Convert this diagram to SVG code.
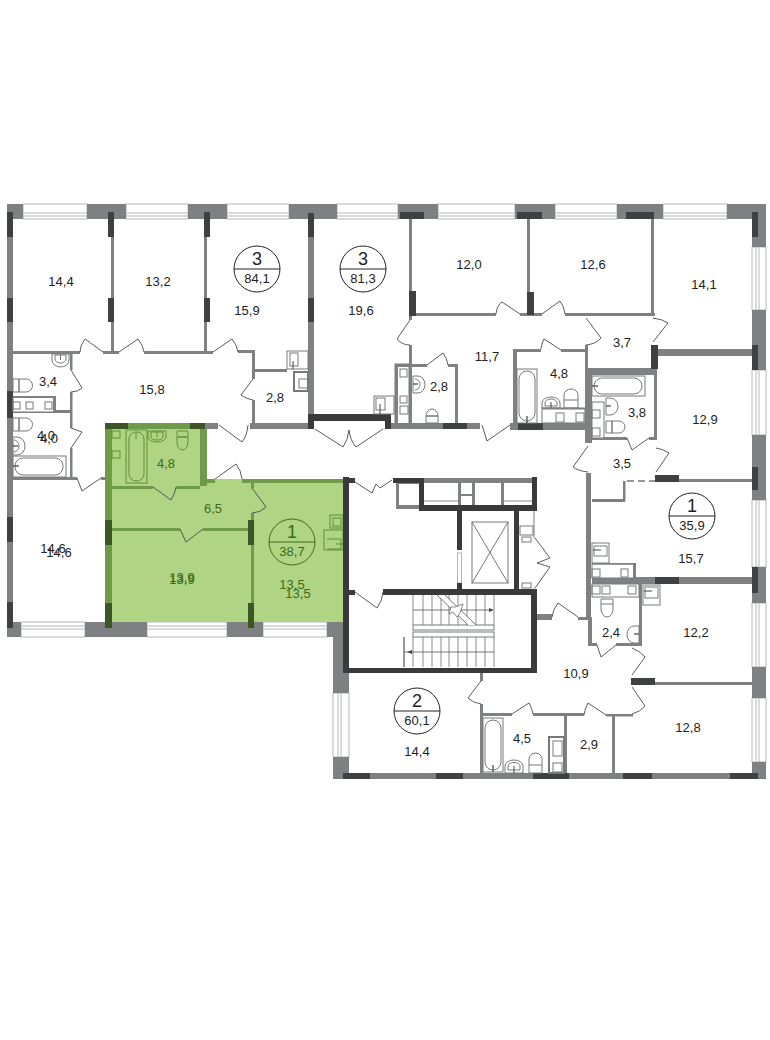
<svg xmlns="http://www.w3.org/2000/svg" width="770" height="1040" viewBox="0 0 770 1040">
<style>
.w{fill:#7f8082}.d{fill:#3f4042}.k{fill:#3a3a3c}
.win{fill:#fff;stroke:#b5b6b8;stroke-width:1}
.wl{stroke:#b5b6b8;stroke-width:1;fill:none}
.door{fill:none;stroke:#4a4a4c;stroke-width:.9}
.f{fill:#fff;stroke:#77787a;stroke-width:1}
.fi{fill:none;stroke:#77787a;stroke-width:1}
.gf{fill:none;stroke:#5f8f35;stroke-width:1}
.gw{fill:#6f9a4a}.gd{fill:#3d5626}
.st{fill:none;stroke:#8a8b8d;stroke-width:1}
.st2{fill:none;stroke:#555;stroke-width:.8}
text{font-family:"Liberation Sans",Arial,sans-serif;font-size:13px;fill:#222;text-anchor:middle}
.g{fill:#3d6b17}
.n{font-size:18px}
.ci{fill:#fff;stroke:#222;stroke-width:1}
.cg{fill:none;stroke:#3d6b17;stroke-width:1}
</style>
<g id="windows">
<rect class="win" x="23" y="204" width="64" height="15"/><rect class="win" x="126" y="204" width="62" height="15"/><rect class="win" x="227" y="204" width="62" height="15"/><rect class="win" x="337" y="204" width="61" height="15"/><rect class="win" x="438" y="204" width="77" height="15"/><rect class="win" x="555" y="204" width="62" height="15"/><rect class="win" x="663" y="204" width="64" height="15"/>
<path class="wl" d="M23 213H87M126 213H188M227 213H289M337 213H398M438 213H515M555 213H617M663 213H727M23 216H87M126 216H188M227 216H289M337 216H398M438 216H515M555 216H617M663 216H727"/>
<rect class="win" x="752" y="247" width="14" height="63"/><rect class="win" x="752" y="370" width="14" height="65"/><rect class="win" x="752" y="500" width="14" height="67"/><rect class="win" x="752" y="603" width="14" height="64"/><rect class="win" x="752" y="698" width="14" height="64"/>
<path class="wl" d="M756 247V310M756 370V435M756 500V567M756 603V667M756 698V762M759 247V310M759 370V435M759 500V567M759 603V667M759 698V762"/>
<rect class="win" x="21" y="622" width="64" height="15"/><rect class="win" x="147" y="622" width="80" height="15"/><rect class="win" x="263" y="622" width="64" height="15"/>
<path class="wl" d="M21 626H85M147 626H227M263 626H327M21 629H85M147 629H227M263 629H327"/>
<rect class="win" x="333" y="693" width="16" height="64"/><path class="wl" d="M338 693V757M341 693V757"/>
</g>
<g id="piers">
<rect class="w" x="7" y="204" width="16" height="15"/><rect class="w" x="87" y="204" width="39" height="15"/><rect class="w" x="188" y="204" width="39" height="15"/><rect class="w" x="289" y="204" width="48" height="15"/><rect class="w" x="398" y="204" width="40" height="15"/><rect class="w" x="515" y="204" width="40" height="15"/><rect class="w" x="617" y="204" width="46" height="15"/><rect class="w" x="727" y="204" width="39" height="15"/>
<rect class="w" x="752" y="204" width="14" height="43"/><rect class="w" x="752" y="310" width="14" height="60"/><rect class="w" x="752" y="435" width="14" height="65"/><rect class="w" x="752" y="567" width="14" height="36"/><rect class="w" x="752" y="667" width="14" height="31"/><rect class="w" x="752" y="762" width="14" height="17"/>
<rect class="w" x="7" y="204" width="6" height="433"/><rect class="w" x="7" y="622" width="14" height="15"/><rect class="w" x="85" y="622" width="62" height="15"/><rect class="w" x="227" y="622" width="36" height="15"/><rect class="w" x="327" y="622" width="20" height="15"/>
<rect class="w" x="333" y="637" width="16" height="56"/><rect class="w" x="333" y="757" width="16" height="22"/><rect class="w" x="333" y="773" width="425" height="6"/>
</g>
<g id="apt-green">
<path d="M105 423H207V479H347V622H105Z" fill="#aed484"/>
<path class="gw" d="M105 423h108v6H112v193h-7zM200 429h7v57h-7zM207 479h8v4h-8zM242 479h105v4H242zM112 486h41v3h-41zM176 486h24v3h-24zM251 483h3v5h-3zM251 513h3v109h-3zM112 528h68v3h-68zM203 528h45v3h-45z"/>
<path class="gd" d="M105 423h23v6h-23zM190 423h20v6h-20zM105 520h7v25h-7zM105 603h7v25h-7zM248 520h6v25h-6zM248 603h6v25h-6z"/>
<rect class="gf" x="126" y="430" width="21" height="53"/><rect class="gf" x="129" y="432" width="15" height="49" rx="7"/><path class="gf" d="M136 432v7"/>
<path class="gf" d="M148 431h18v6a9 5 0 0 1-18 0zM151 432h12v5a6 3 0 0 1-12 0z"/><path class="gf" d="M157 431v6"/>
<rect class="gf" x="177" y="431" width="11" height="6" rx="1"/><path class="gf" d="M177 442a5.500 8 0 0 0 11 0v-5h-11z"/>
<rect class="gf" x="112" y="431" width="8" height="7"/><rect class="gf" x="112" y="451" width="8" height="7"/>
<rect class="gf" x="330" y="515" width="13" height="13"/><rect class="gf" x="333" y="518" width="8" height="8"/><rect class="gf" x="324" y="530" width="19" height="20"/><path class="gf" d="M327 539h14v10h-14M336 544h7"/>
<path class="door" d="M215 479L236 464Q241 470 242 479M153 487L171 500Q175 494 176 487M252 488L266 507Q260 513 252 513M180 529L186 542L203 529"/>
</g>
<g id="walls">
<rect class="w" x="111" y="219" width="3" height="132"/><rect class="w" x="204" y="219" width="3" height="132"/><rect class="w" x="13" y="351" width="67" height="3"/><rect class="w" x="103" y="351" width="16" height="3"/><rect class="w" x="144" y="351" width="69" height="3"/><rect class="w" x="238" y="350" width="17" height="3"/>
<rect class="w" x="252" y="350" width="3" height="29"/><rect class="w" x="252" y="400" width="3" height="23"/><rect class="w" x="255" y="369" width="32" height="3"/><rect class="w" x="308" y="219" width="6" height="196"/>
<rect class="w" x="250" y="423" width="59" height="6"/><rect class="w" x="205" y="423" width="13" height="6"/>
<rect class="w" x="391" y="423" width="89" height="6"/><rect class="w" x="510" y="423" width="75" height="7"/>
<rect class="w" x="409" y="219" width="3" height="101"/><rect class="w" x="409" y="345" width="3" height="80"/><rect class="w" x="416" y="313" width="80" height="3"/><rect class="w" x="520" y="313" width="22" height="3"/><rect class="w" x="565" y="313" width="90" height="3"/><rect class="w" x="527" y="219" width="3" height="73"/><rect class="w" x="651" y="219" width="3" height="97"/>
<rect class="w" x="585" y="345" width="3" height="25"/><rect class="w" x="513" y="349" width="28" height="3"/><rect class="w" x="561" y="349" width="25" height="3"/><rect class="w" x="513" y="349" width="4" height="75"/>
<rect class="w" x="585" y="368" width="7" height="75"/><rect class="w" x="585" y="368" width="72" height="7"/><rect class="w" x="658" y="349" width="94" height="7"/><rect class="w" x="654" y="375" width="3" height="63"/><rect class="w" x="592" y="437" width="35" height="3"/><rect class="w" x="649" y="437" width="8" height="3"/>
<rect class="w" x="586" y="473" width="5" height="147"/><rect class="w" x="679" y="479" width="73" height="3"/><rect class="w" x="623" y="481" width="2.500" height="20"/><rect class="w" x="592" y="499" width="33" height="3"/><path d="M627 481h28" stroke="#777" stroke-width="1.500" stroke-dasharray="7 4" fill="none"/>
<rect class="w" x="592" y="577" width="160" height="7"/><rect class="w" x="578" y="617" width="14" height="3"/><rect class="w" x="537" y="614" width="15" height="6"/><rect class="w" x="639" y="584" width="3" height="62"/><rect class="w" x="588" y="620" width="4" height="26"/><rect class="w" x="588" y="643" width="9" height="3"/><rect class="w" x="616" y="643" width="26" height="3"/><rect class="w" x="655" y="682" width="97" height="3"/>
<rect class="w" x="606" y="714" width="27" height="2.500"/><rect class="w" x="483" y="713" width="29" height="3"/><rect class="w" x="533" y="713" width="51" height="3"/><rect class="w" x="480" y="673" width="3" height="8"/><rect class="w" x="480" y="704" width="3" height="69"/><rect class="w" x="564" y="714" width="3" height="59"/><rect class="w" x="612" y="715" width="3" height="58"/>
<rect class="w" x="70" y="354" width="2.500" height="16"/><rect class="w" x="70" y="392" width="2.500" height="36"/><rect class="w" x="70" y="448" width="2.500" height="30"/><rect class="w" x="13" y="410" width="58" height="3"/><rect class="w" x="13" y="477" width="64" height="3"/><rect class="w" x="101" y="477" width="4" height="3"/>
<rect class="w" x="395" y="364" width="32" height="3"/><rect class="w" x="448" y="364" width="10" height="3"/><rect class="w" x="455" y="364" width="3" height="60"/><rect class="w" x="395" y="364" width="3" height="60"/>
</g>
<g id="dark-walls">
<rect class="d" x="7" y="212" width="6" height="25"/><rect class="d" x="7" y="298" width="6" height="24"/><rect class="d" x="7" y="391" width="6" height="27"/><rect class="d" x="7" y="517" width="6" height="25"/><rect class="d" x="7" y="602" width="6" height="26"/>
<rect class="d" x="108" y="212" width="6" height="25"/><rect class="d" x="108" y="298" width="6" height="24"/><rect class="d" x="204" y="212" width="6" height="25"/><rect class="d" x="204" y="298" width="6" height="24"/><rect class="d" x="308" y="213" width="6" height="24"/><rect class="d" x="308" y="298" width="6" height="24"/>
<rect class="d" x="400" y="212" width="24" height="7"/><rect class="d" x="409" y="291" width="7" height="25"/><rect class="d" x="517" y="212" width="25" height="7"/><rect class="d" x="527" y="292" width="7" height="23"/><rect class="d" x="626" y="212" width="28" height="7"/><rect class="d" x="651" y="345" width="7" height="24"/><rect class="d" x="518" y="423" width="25" height="7"/><rect class="d" x="443" y="423" width="24" height="6"/>
<rect class="d" x="752" y="212" width="6" height="25"/><rect class="d" x="752" y="345" width="6" height="25"/><rect class="d" x="752" y="467" width="6" height="23"/><rect class="d" x="752" y="567" width="6" height="26"/><rect class="d" x="655" y="475" width="24" height="7"/><rect class="d" x="655" y="577" width="24" height="7"/><rect class="d" x="631" y="678" width="24" height="7"/>
<rect class="d" x="343" y="773" width="27" height="6"/><rect class="d" x="436" y="773" width="27" height="6"/><rect class="d" x="533" y="773" width="36" height="6"/><rect class="d" x="623" y="773" width="29" height="6"/><rect class="d" x="730" y="773" width="28" height="6"/>
<rect class="k" x="308" y="414" width="83" height="7"/><rect class="k" x="308" y="414" width="6" height="15"/><rect class="k" x="385" y="414" width="6" height="15"/>
</g>
<g id="core">
<rect class="w" x="396" y="483" width="23" height="26"/><rect class="f" x="399" y="484" width="20" height="21" style="stroke:none"/>
<rect class="w" x="424" y="478" width="108" height="28"/>
<rect x="424" y="483" width="34" height="22" fill="#fff"/><rect x="461" y="483" width="11" height="11" fill="#fff"/><rect x="461" y="496" width="11" height="9" fill="#fff"/><rect x="475" y="483" width="26" height="22" fill="#fff"/><rect x="504" y="483" width="28" height="22" fill="#fff"/>
<path class="st" d="M424 501H458M504 501H532"/>
<rect class="k" x="343" y="477" width="6" height="196"/><rect class="k" x="343" y="668" width="194" height="5"/><rect class="k" x="531" y="589" width="6" height="84"/><rect class="k" x="383" y="589" width="154" height="6"/><rect class="k" x="349" y="590" width="6" height="5"/><rect class="k" x="349" y="478" width="6" height="5"/>
<rect class="k" x="393" y="478" width="31" height="5"/><rect class="k" x="419" y="478" width="5" height="33"/><rect class="k" x="419" y="505" width="118" height="6"/><rect class="k" x="532" y="477" width="5" height="34"/>
<rect class="k" x="457" y="510" width="5" height="40"/><rect class="win" x="457.500" y="553" width="4" height="30"/><rect class="k" x="457" y="583" width="5" height="7"/><rect class="k" x="514" y="510" width="5" height="80"/>
<rect fill="none" stroke="#77787a" x="472" y="522" width="36" height="61"/><path class="st2" d="M472 522L508 583M508 522L472 583"/>
<rect class="fi" x="520" y="526" width="13" height="9"/><rect class="fi" x="522" y="537" width="9" height="5"/><rect class="fi" x="522" y="583" width="9" height="5"/><path class="fi" d="M534 511v27M534 588v2"/>
<g id="stairs">
<path class="st" d="M413 595V625M423 595V625M432 595V625M441 595V625M449 595V625M458 595V625M467 595V625M476 595V625M485 595V625M494 595V625M404 637V667M413 637V667M423 637V667M432 637V667M441 637V667M449 637V667M458 637V667M467 637V667M476 637V667M485 637V667M494 637V667"/>
<rect class="fi" x="413" y="625" width="81" height="5"/><rect class="fi" x="413" y="632" width="81" height="5"/>
<path class="st2" d="M413 610H491M404 652H494M404 637V667"/>
<path fill="#fff" stroke="none" d="M437 595H445L476 625H468Z"/>
<path class="st2" d="M437 595L468 625M445 595L476 625"/>
<path fill="#fff" stroke="#6a6b6d" stroke-width=".8" d="M449 614L451 607L455 607L463 604L460 613L457 617L453 612Z"/>
<path fill="#444" d="M489 608l5 2-5 2zM412 650l-5 2 5 2z"/>
</g>
</g>
<g id="fixtures">
<path class="f" d="M52 354h17v6a8.500 7 0 0 1-17 0z"/><path class="fi" d="M55 355h11v4a5.500 4 0 0 1-11 0zM60.500 355v5"/>
<path class="f" d="M13 379h6v13h-6zM19 379h7a6.500 6.500 0 0 1 0 13h-7z"/>
<rect class="f" x="13" y="397" width="41" height="15"/><rect class="fi" x="13" y="402" width="7" height="7"/><rect class="fi" x="26" y="402" width="7" height="7"/><rect class="fi" x="45" y="402" width="7" height="7"/><rect class="w" x="53" y="397" width="3" height="15"/><rect class="w" x="13" y="396" width="43" height="2"/>
<path class="f" d="M13 418h6v13h-6zM19 418h7a6.500 6.500 0 0 1 0 13h-7z"/>
<path class="f" d="M13 437h4a8 9 0 0 1 0 18h-4z"/><path class="fi" d="M14 440a5 6 0 0 1 0 12"/><path stroke="#444" stroke-width="1.200" d="M13 446h5"/>
<rect class="f" x="13" y="456" width="53" height="21"/><rect class="fi" x="15" y="458" width="48" height="17" rx="8"/><path stroke="#444" stroke-width="1.200" d="M13 466h6"/>
<rect class="f" x="287" y="351" width="21" height="18"/><rect class="fi" x="290" y="353" width="8" height="13"/><path stroke="#444" d="M293 361v8"/>
<rect class="f" x="294" y="372" width="14" height="19" style="stroke-width:2"/><rect class="fi" x="299" y="379" width="9" height="9"/>
<rect class="fi" x="395" y="364" width="14" height="60"/><rect class="fi" x="400" y="369" width="7" height="8"/><rect class="fi" x="400" y="396" width="7" height="7"/><rect class="fi" x="400" y="406" width="8" height="8"/>
<rect class="f" x="374" y="396" width="20" height="18"/><rect class="fi" x="376" y="398" width="9" height="12"/><path stroke="#444" d="M380 404v10"/>
<path class="f" d="M413 376h5a7 8.500 0 0 1 0 17h-5z"/><path class="fi" d="M415 379a5 5.500 0 0 1 0 11"/><path stroke="#444" stroke-width="1.200" d="M413 384h5"/>
<path class="f" d="M426 416a6 7 0 1 1 12 0zM426 416h12v7h-12z"/>
<rect class="f" x="517" y="369" width="20" height="54"/><rect class="fi" x="519" y="371" width="16" height="50" rx="8"/><path stroke="#444" stroke-width="1.200" d="M527 416v7"/>
<path class="f" d="M542 408v-5a9 6 0 0 1 18 0v5z"/><path class="fi" d="M545 406v-3a6 4 0 0 1 12 0v3z"/><path stroke="#444" d="M551 402v6"/>
<path class="f" d="M564 408v-13a7 6 0 0 1 14 0v13z"/><path class="fi" d="M564 400h14"/>
<rect class="f" x="542" y="408" width="43" height="15"/><rect class="fi" x="556" y="413" width="8" height="9"/><rect class="fi" x="576" y="413" width="8" height="9"/><rect class="w" x="542" y="408" width="43" height="1.500"/>
<rect class="f" x="592" y="376" width="53" height="20"/><rect class="fi" x="594" y="378" width="48" height="16" rx="8"/><path stroke="#444" stroke-width="1.200" d="M592 386h6"/>
<path class="f" d="M606 398h4a8 8.500 0 0 1 0 17h-4z"/><path stroke="#444" stroke-width="1.200" d="M606 406h5"/>
<path class="f" d="M606 421h6v12h-6zM612 421h7a6 6 0 0 1 0 12h-7z"/>
<rect class="f" x="592" y="402" width="12" height="36"/><rect class="fi" x="592" y="410" width="8" height="8"/><rect class="fi" x="592" y="428" width="8" height="8"/>
<rect class="f" x="592" y="543" width="17" height="20"/><rect class="fi" x="594" y="546" width="13" height="10"/><path stroke="#444" d="M593 550h8"/>
<rect class="f" x="592" y="564" width="42" height="14"/><rect class="w" x="633" y="564" width="3" height="14"/><rect class="w" x="592" y="563" width="44" height="1.500"/><rect class="fi" x="592" y="569" width="8" height="8"/><rect class="fi" x="621" y="569" width="7" height="8"/>
<rect class="f" x="592" y="584" width="47" height="13"/><rect class="fi" x="592" y="586" width="8" height="8"/><rect class="fi" x="602" y="586" width="8" height="8"/><rect class="fi" x="628" y="586" width="8" height="8"/>
<rect class="f" x="643" y="585" width="17" height="20"/><rect class="fi" x="645" y="587" width="13" height="11"/><path stroke="#444" d="M644 591h8"/>
<path class="f" d="M601 599h12v10a6 8 0 0 1-12 0z"/><path class="fi" d="M601 604h12"/>
<path class="f" d="M639 626h-5a7 8.500 0 0 0 0 17h5z"/><path stroke="#444" stroke-width="1.200" d="M639 634h-5"/>
<rect class="f" x="483" y="718" width="20" height="54"/><rect class="fi" x="485" y="720" width="16" height="50" rx="8"/><path stroke="#444" stroke-width="1.200" d="M493 765v7"/>
<path class="f" d="M505 773v-7a9 6 0 0 1 18 0v7z"/><path class="fi" d="M508 770v-4a6 3.500 0 0 1 12 0v4z"/><path stroke="#444" d="M514 766v7"/>
<path class="f" d="M529 773v-14a6.500 6 0 0 1 13 0v14z"/><path class="fi" d="M529 765h13"/>
<rect class="f" x="549" y="737" width="15" height="36" style="stroke-width:2"/><rect class="fi" x="553" y="741" width="9" height="15"/><rect class="fi" x="553" y="763" width="9" height="9"/>
</g>
<g id="doors" class="connectors">
<path class="door" d="M103 352L85 339Q80 345 80 352M119 352L138 339Q143 345 144 352M213 352L232 339Q237 345 238 352M253 379L241 395Q246 399 253 400M71 370L82 388Q78 392 71 392M71 428L82 432L71 448M77 478L82 491L101 478M219 425L242 442Q247 436 248 425"/>
<path class="door" d="M410 320L397 339Q402 345 410 345M427 365L443 353Q447 358 448 365M315 429L343 447Q348 440 349 430Q350 440 356 447L383 429M482 425L487 441L510 425M496 314Q497 305 502 302L520 314M542 314L560 301Q564 306 565 314"/>
<path class="door" d="M586 318L601 338Q596 344 586 345M653 318Q662 319 668 323L653 342M541 349Q542 342 544 339L561 350M627 438L632 450L649 438M588 446L573 467Q578 471 588 472M656 448Q663 449 669 453L656 472"/>
<path class="door" d="M352 480L372 493L376 484L380 488L392 480M355 592L377 608Q382 602 383 592M535 538L550 558L537 563L550 567L535 588M578 617L558 603Q553 609 552 617"/>
<path class="door" d="M597 645L601 657L616 645M632 648Q640 651 645 657L632 675M632 687L645 706Q640 712 632 714M584 715Q585 708 588 703L606 715M481 681L468 698Q473 703 481 704M512 714L529 703Q532 708 533 714"/>
</g>
<g id="circles">
<g id="c1"><circle class="ci" cx="257" cy="269" r="23"/><path stroke="#222" d="M234 269h46"/><text class="n" x="257" y="265">3</text><text x="257" y="283">84,1</text></g>
<g id="c2"><circle class="ci" cx="363" cy="269" r="23"/><path stroke="#222" d="M340 269h46"/><text class="n" x="363" y="265">3</text><text x="363" y="283">81,3</text></g>
<g id="c3"><circle class="ci" cx="692" cy="516" r="23"/><path stroke="#222" d="M669 516h46"/><text class="n" x="692" y="512">1</text><text x="692" y="530">35,9</text></g>
<g id="c4"><circle class="ci" cx="417" cy="711" r="23"/><path stroke="#222" d="M394 711h46"/><text class="n" x="417" y="707">2</text><text x="417" y="725">60,1</text></g>
<g id="c5"><circle class="cg" cx="292" cy="542" r="23"/><path stroke="#3d6b17" d="M269 542h46"/><text class="n g" x="292" y="538">1</text><text class="g" x="292" y="556">38,7</text></g>
</g>
<g id="labels">
<text x="61" y="286">14,4</text><text x="158" y="286">13,2</text><text x="247" y="315">15,9</text><text x="361" y="315">19,6</text><text x="469" y="269">12,0</text><text x="593" y="269">12,6</text><text x="704" y="289">14,1</text><text x="487" y="361">11,7</text><text x="439" y="391">2,8</text><text x="559" y="378">4,8</text><text x="622" y="347">3,7</text><text x="637" y="417">3,8</text><text x="705" y="424">12,9</text><text x="622" y="468">3,5</text><text x="691" y="563">15,7</text><text x="696" y="637">12,2</text><text x="611" y="637">2,4</text><text x="688" y="732">12,8</text><text x="589" y="749">2,9</text><text x="576" y="678">10,9</text><text x="522" y="743">4,5</text><text x="417" y="756">14,4</text><text x="275" y="402">2,8</text><text x="152" y="394">15,8</text><text x="48" y="386">3,4</text><text x="46" y="440">4,0</text><text x="49" y="443">4,0</text><text x="53" y="553">14,6</text><text x="59" y="557">14,6</text>
<text class="g" x="166" y="468">4,8</text><text class="g" x="213" y="513">6,5</text><text class="g" x="182" y="582">13,9</text><text class="g" x="182" y="584">13,9</text><text class="g" x="292" y="589">13,5</text><text class="g" x="298" y="598">13,5</text>
</g>
</svg>
